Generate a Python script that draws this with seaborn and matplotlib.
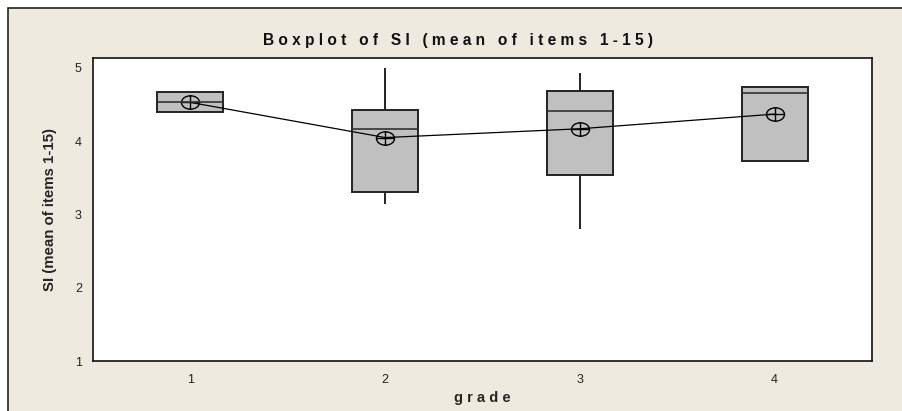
import numpy as np
import pandas as pd
import matplotlib
matplotlib.use("Agg")
import matplotlib.pyplot as plt
from matplotlib.patches import Rectangle
from matplotlib.path import Path
import seaborn as sns

# five-number summaries (min, q1, median, q3, max)
grades = ["1", "2", "3", "4"]
g1 = [4.40, 4.40, 4.54, 4.67, 4.67]
g2 = [3.14, 3.31, 4.17, 4.43, 5.00]
g3 = [2.80, 3.54, 4.41, 4.69, 4.93]
g4 = [3.73, 3.73, 4.66, 4.74, 4.75]
means = [4.53, 4.05, 4.17, 4.37]

df = pd.DataFrame({
    "grade": np.repeat(grades, 5),
    "SI": g1 + g2 + g3 + g4,
})
mean_df = pd.DataFrame({"grade": grades, "SI": means})

BEIGE = "#EEEAE0"

sns.set_style("white")
plt.rcParams["font.family"] = ["Liberation Sans", "DejaVu Sans"]

fig = plt.figure(figsize=(9.03, 4.11), dpi=100, facecolor="white")
# window background with black left/top border
fig.patches.append(Rectangle((8 / 903, -0.05), 1.1, 403 / 411 + 0.05,
                             transform=fig.transFigure, facecolor=BEIGE,
                             edgecolor="#222222", linewidth=1.2, zorder=-10))

ax = fig.add_axes([93 / 903, (411 - 361) / 411, (872 - 93) / 903, (361 - 58) / 411])

sns.boxplot(data=df, x="grade", y="SI", ax=ax, width=0.34, whis=10,
            color="#C0C0C0", saturation=1, fill=True,
            boxprops=dict(edgecolor="#222222", linewidth=1.4),
            medianprops=dict(color="#333333", linewidth=1.2),
            whiskerprops=dict(color="#222222", linewidth=1.4),
            capprops=dict(linewidth=0), showcaps=False, showfliers=False)

# circle-with-cross marker, slightly wider than tall
circ = Path.unit_circle()
ell = Path(circ.vertices * [1.35, 1.0], circ.codes)
cross = Path([(-1.35, 0), (1.35, 0), (0, -1), (0, 1)],
             [Path.MOVETO, Path.LINETO, Path.MOVETO, Path.LINETO])
oplus = Path.make_compound_path(ell, cross)

sns.pointplot(data=mean_df, x="grade", y="SI", ax=ax, color="black",
              errorbar=None, markers=oplus, markersize=13, linewidth=0.9,
              markerfacecolor="none", markeredgewidth=1.0)

ax.set_ylim(1, 5.136)
ax.set_xlim(-0.5, 3.5)
ax.set_yticks([1, 2, 3, 4, 5])
ax.set_facecolor("white")
for s in ax.spines.values():
    s.set_color("#111111")
    s.set_linewidth(1.2)
ax.tick_params(axis="both", direction="out", length=5, width=1, color="#222222",
               labelsize=9, labelcolor="#222222", pad=3)
ax.tick_params(axis="x", pad=4)

ax.set_xlabel("g r a d e", fontsize=10.5, fontweight="bold", labelpad=4)
ax.set_ylabel("SI (mean of items 1-15)", fontsize=10.8, fontweight="bold", labelpad=13)
fig.text(458 / 903, 1 - 40 / 411,
         "B o x p l o t   o f   S I   ( m e a n   o f   i t e m s   1 - 1 5 )",
         ha="center", va="center", fontsize=11.2, fontweight="bold", color="#111111")

fig.savefig("out.png", dpi=100, facecolor=fig.get_facecolor())
